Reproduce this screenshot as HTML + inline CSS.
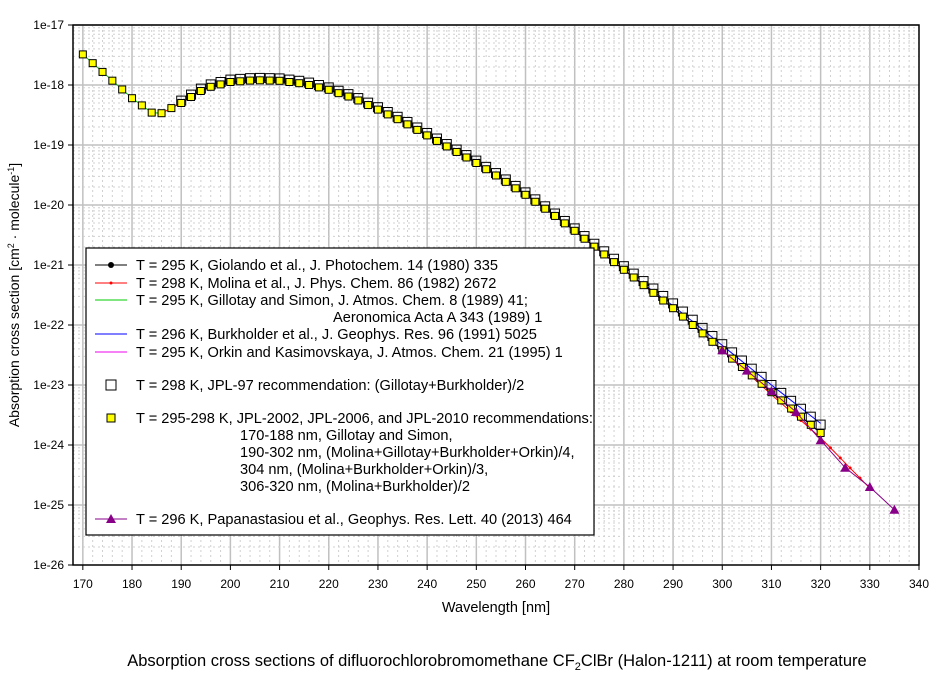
<!DOCTYPE html>
<html><head><meta charset="utf-8"><style>
body{margin:0;background:#fff;}
svg text{font-family:"Liberation Sans",Arial,sans-serif;}
</style></head><body>
<svg id="s" width="944" height="678" xmlns="http://www.w3.org/2000/svg">
<rect width="944" height="678" fill="#fff"/>
<g id="grid"></g>
<g id="data"></g>
<rect x="73" y="25" width="846" height="540" fill="none" stroke="#000" stroke-width="1.5"/>
<g id="ticks" font-size="12"></g>
<text x="496" y="612" font-size="14.5" text-anchor="middle">Wavelength [nm]</text>
<text transform="translate(19,295) rotate(-90)" font-size="14" text-anchor="middle">Absorption cross section [cm<tspan dy="-5" font-size="9">2</tspan><tspan dy="5"> · molecule</tspan><tspan dy="-5" font-size="9">-1</tspan><tspan dy="5">]</tspan></text>
<text x="497" y="666" font-size="16.5" text-anchor="middle">Absorption cross sections of difluorochlorobromomethane CF<tspan dy="4" font-size="11">2</tspan><tspan dy="-4">ClBr (Halon-1211) at room temperature</tspan></text>
<g id="legend" font-size="14.6">
<rect x="86" y="248" width="508" height="287" fill="#fff" stroke="#000" stroke-width="1.2"/>
<line x1="95" y1="265" x2="127" y2="265" stroke="#000"/><circle cx="111" cy="265" r="3" fill="#000"/>
<text x="136" y="270">T = 295 K, Giolando et al., J. Photochem. 14 (1980) 335</text>
<line x1="95" y1="283" x2="127" y2="283" stroke="#f00"/><circle cx="111" cy="283" r="1.5" fill="#f00"/>
<text x="136" y="288">T = 298 K, Molina et al., J. Phys. Chem. 86 (1982) 2672</text>
<line x1="95" y1="300" x2="127" y2="300" stroke="#0c0"/>
<text x="136" y="305">T = 295 K, Gillotay and Simon, J. Atmos. Chem. 8 (1989) 41;</text>
<text x="333" y="322">Aeronomica Acta A 343 (1989) 1</text>
<line x1="95" y1="334" x2="127" y2="334" stroke="#00f"/>
<text x="136" y="339">T = 296 K, Burkholder et al., J. Geophys. Res. 96 (1991) 5025</text>
<line x1="95" y1="352" x2="127" y2="352" stroke="#e0e"/>
<text x="136" y="357">T = 295 K, Orkin and Kasimovskaya, J. Atmos. Chem. 21 (1995) 1</text>
<rect x="106" y="380" width="10" height="10" fill="none" stroke="#000"/>
<text x="136" y="390">T = 298 K, JPL-97 recommendation: (Gillotay+Burkholder)/2</text>
<rect x="107" y="414" width="8" height="8" fill="#ff0" stroke="#000"/>
<text x="136" y="423">T = 295-298 K, JPL-2002, JPL-2006, and JPL-2010 recommendations:</text>
<text x="240" y="440">170-188 nm, Gillotay and Simon,</text>
<text x="240" y="457">190-302 nm, (Molina+Gillotay+Burkholder+Orkin)/4,</text>
<text x="240" y="474">304 nm, (Molina+Burkholder+Orkin)/3,</text>
<text x="240" y="491">306-320 nm, (Molina+Burkholder)/2</text>
<line x1="95" y1="519" x2="127" y2="519" stroke="#808"/><polygon points="111,514 116,523 106,523" fill="#808"/>
<text x="136" y="524">T = 296 K, Papanastasiou et al., Geophys. Res. Lett. 40 (2013) 464</text>
</g>
</svg>
<script>
const NS="http://www.w3.org/2000/svg";
function el(p,t,a){const e=document.createElementNS(NS,t);for(const k in a)e.setAttribute(k,a[k]);p.appendChild(e);return e;}
const X=w=>73+(w-168)*846/172, Y=l=>25+(-17-l)*60;
const grid=document.getElementById('grid'),tk=document.getElementById('ticks'),dat=document.getElementById('data');
for(let w=170;w<=338;w+=2){const x=X(w);const maj=w%10==0;
 el(grid,'line',{x1:x,y1:25,x2:x,y2:565,stroke:maj?'#c0c0c0':'#d0d0d0','stroke-width':maj?1.5:1,'stroke-dasharray':maj?'':'2,3'});}
for(let w=170;w<=340;w+=10){el(tk,'line',{x1:X(w),y1:565,x2:X(w),y2:570,stroke:'#000'});const t=el(tk,'text',{x:X(w),y:588,'text-anchor':'middle'});t.textContent=w;}
for(let d=-17;d>=-26;d--){const y=Y(d);
 if(d>-26) el(grid,'line',{x1:73,y1:y,x2:919,y2:y,stroke:'#c0c0c0','stroke-width':1.5});
 el(tk,'line',{x1:68,y1:y,x2:73,y2:y,stroke:'#000'});const t=el(tk,'text',{x:64,y:y+4,'text-anchor':'end'});t.textContent='1e'+d;
 if(d>-26) for(let m=2;m<=9;m++){const yy=Y(d-1+Math.log10(m));el(grid,'line',{x1:73,y1:yy,x2:919,y2:yy,stroke:'#d0d0d0','stroke-dasharray':'2,3'});}}
const K=[[170,-17.49],[180,-18.22],[184,-18.46],[186,-18.47],[190,-18.30],[195,-18.05],[200,-17.95],[205,-17.92],[210,-17.93],[215,-17.98],[220,-18.08],[225,-18.22],[230,-18.41],[235,-18.61],[240,-18.84],[245,-19.07],[250,-19.30],[255,-19.56],[260,-19.83],[265,-20.12],[270,-20.43],[275,-20.76],[280,-21.08],[285,-21.40],[290,-21.72],[295,-22.07],[300,-22.42],[305,-22.77],[310,-23.12],[315,-23.46],[320,-23.80],[325,-24.2],[330,-24.6]];
function f(w){for(let i=0;i<K.length-1;i++){if(w<=K[i+1][0]){const[a,b]=K[i],[c,d]=K[i+1];return b+(d-b)*(w-a)/(c-a);}}return K[K.length-1][1];}
function line(ws,off,col,sw){el(dat,'polyline',{points:ws.map(w=>X(w)+','+Y(f(w)+off(w))).join(' '),fill:'none',stroke:col,'stroke-width':sw||1});}
const r=(a,b,s)=>{const o=[];for(let w=a;w<=b;w+=s)o.push(w);return o;};
line(r(170,302,2),w=>0,'#0c0');
line(r(190,320,2),w=>w>280?(w-280)*0.004:0,'#00f');
line(r(190,320,2),w=>0,'#e0e');
line(r(186,330,2),w=>w>300?-(w-300)*0.004:0,'#f00');
line(r(190,320,2),w=>0,'#000');
[290,300,310].forEach(w=>el(dat,'circle',{cx:X(w),cy:Y(f(w)),r:3,fill:'#000'}));
r(302,330,2).forEach(w=>el(dat,'circle',{cx:X(w),cy:Y(f(w)-(w>300?(w-300)*0.004:0)),r:1.5,fill:'#f00'}));
r(190,320,2).forEach(w=>{const x=X(w),y=Y(f(w)+0.04+(w>270?(w-270)*0.002:0));el(dat,'rect',{x:x-4.5,y:y-4.5,width:9,height:9,fill:'none',stroke:'#000'});});
r(170,320,2).forEach(w=>{const x=X(w),y=Y(f(w));el(dat,'rect',{x:x-3.5,y:y-3.5,width:7,height:7,fill:'#ff0',stroke:'#000'});});
const P=[[300,-22.42],[305,-22.76],[310,-23.1],[315,-23.45],[320,-23.92],[325,-24.38],[330,-24.7],[335,-25.08]];
el(dat,'polyline',{points:P.map(p=>X(p[0])+','+Y(p[1])).join(' '),fill:'none',stroke:'#808'});
P.forEach(p=>{const x=X(p[0]),y=Y(p[1]);el(dat,'polygon',{points:`${x},${y-5} ${x+5},${y+4} ${x-5},${y+4}`,fill:'#808'});});
</script>
</body></html>
